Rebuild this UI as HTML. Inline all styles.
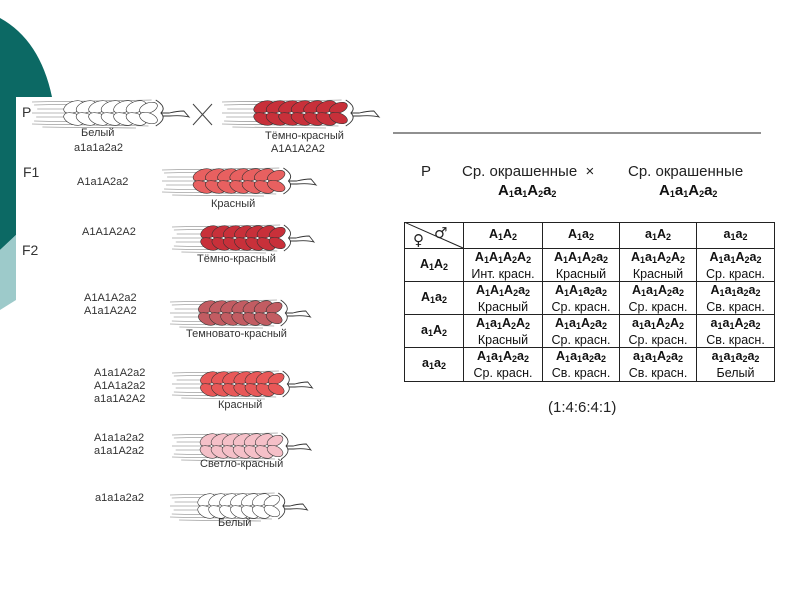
<!DOCTYPE html>
<html><head><meta charset="utf-8"><style>
body{margin:0;width:800px;height:600px;background:#fff;position:relative;overflow:hidden;font-family:"Liberation Sans",sans-serif}
.t{position:absolute;font-size:11px;color:#333;white-space:nowrap;line-height:13px}
.g{position:absolute;font-size:14px;color:#333}
table{position:absolute;left:404px;top:222px;border-collapse:collapse;font-family:"Liberation Sans",sans-serif;font-size:12.5px;color:#111}
td{border:1.5px solid #222;text-align:center;padding:0;line-height:14px}
sub{font-size:9px;vertical-align:-2px}
</style></head><body>
<svg width="800" height="600" style="position:absolute;left:0;top:0">
<defs>
<g id="ear" stroke="#333" stroke-width="0.6">
<g fill="none" stroke="#777" stroke-width="0.6">
<line x1="0" y1="4" x2="115" y2="2"/><line x1="2" y1="7" x2="112" y2="5"/>
<line x1="5" y1="11" x2="60" y2="11"/><line x1="0" y1="15" x2="40" y2="15"/>
<line x1="4" y1="19" x2="60" y2="19"/><line x1="2" y1="23" x2="112" y2="25"/>
<line x1="0" y1="26" x2="112" y2="28"/><line x1="10" y1="29" x2="100" y2="30"/>
</g>
<ellipse cx="40" cy="9" rx="10" ry="5.5" transform="rotate(-22 40 9)"/>
<ellipse cx="40" cy="21" rx="10" ry="5.5" transform="rotate(22 40 21)"/>
<ellipse cx="52" cy="9" rx="10" ry="5.5" transform="rotate(-22 52 9)"/>
<ellipse cx="52" cy="21" rx="10" ry="5.5" transform="rotate(22 52 21)"/>
<ellipse cx="64" cy="9" rx="10" ry="5.5" transform="rotate(-22 64 9)"/>
<ellipse cx="64" cy="21" rx="10" ry="5.5" transform="rotate(22 64 21)"/>
<ellipse cx="76" cy="9" rx="10" ry="5.5" transform="rotate(-22 76 9)"/>
<ellipse cx="76" cy="21" rx="10" ry="5.5" transform="rotate(22 76 21)"/>
<ellipse cx="88" cy="9" rx="10" ry="5.5" transform="rotate(-22 88 9)"/>
<ellipse cx="88" cy="21" rx="10" ry="5.5" transform="rotate(22 88 21)"/>
<ellipse cx="100" cy="9" rx="10" ry="5.5" transform="rotate(-22 100 9)"/>
<ellipse cx="100" cy="21" rx="10" ry="5.5" transform="rotate(22 100 21)"/>
<ellipse cx="112" cy="10" rx="9" ry="5" transform="rotate(-22 112 10)"/>
<ellipse cx="112" cy="20" rx="9" ry="5" transform="rotate(22 112 20)"/>
<path d="M119 2 Q130 9 124 15 Q130 21 119 28 M124 15 L132 15 Q140 13 146 13 L151 19 Q144 17 132 18 L126 18" fill="none" stroke="#333" stroke-width="0.9"/>
</g>
</defs>
<path d="M0 18 Q40 40 52 97 L16 97 L16 235 L0 250 Z" fill="#0c6964"/>
<path d="M0 250 L16 235 L16 300 L0 310 Z" fill="#9dcaca"/>
<line x1="393" y1="133" x2="761" y2="133" stroke="#222" stroke-width="1"/>
<line x1="193" y1="104" x2="212" y2="125" stroke="#444"/><line x1="212" y1="104" x2="193" y2="125" stroke="#444"/>
<use href="#ear" transform="translate(32,98) scale(1.04,1)" fill="#fff"/>
<use href="#ear" transform="translate(222,98) scale(1.04,1)" fill="#c8303a"/>
<use href="#ear" transform="translate(162,166) scale(1.02,1)" fill="#e86060"/>
<use href="#ear" transform="translate(172,223) scale(0.94,1)" fill="#c8303a"/>
<use href="#ear" transform="translate(170,298) scale(0.93,1)" fill="#c25c62"/>
<use href="#ear" transform="translate(172,369) scale(0.93,1)" fill="#e85858"/>
<use href="#ear" transform="translate(172,431) scale(0.92,1)" fill="#f5c0c8"/>
<use href="#ear" transform="translate(170,491) scale(0.91,1)" fill="#fff"/>
</svg>
<div class="g" style="left:22px;top:104px">P</div>
<div class="t" style="left:81px;top:127px">Белый</div>
<div class="t" style="left:74px;top:142px">a1a1a2a2</div>
<div class="t" style="left:265px;top:130px">Тёмно-красный</div>
<div class="t" style="left:271px;top:143px">A1A1A2A2</div>
<div class="g" style="left:23px;top:164px">F1</div>
<div class="t" style="left:77px;top:176px">A1a1A2a2</div>
<div class="t" style="left:211px;top:198px">Красный</div>
<div class="t" style="left:82px;top:226px">A1A1A2A2</div>
<div class="g" style="left:22px;top:242px">F2</div>
<div class="t" style="left:197px;top:253px">Тёмно-красный</div>
<div class="t" style="left:84px;top:292px">A1A1A2a2<br>A1a1A2A2</div>
<div class="t" style="left:186px;top:328px">Темновато-красный</div>
<div class="t" style="left:94px;top:367px">A1a1A2a2<br>A1A1a2a2<br>a1a1A2A2</div>
<div class="t" style="left:218px;top:399px">Красный</div>
<div class="t" style="left:94px;top:432px">A1a1a2a2<br>a1a1A2a2</div>
<div class="t" style="left:200px;top:458px">Светло-красный</div>
<div class="t" style="left:95px;top:492px">a1a1a2a2</div>
<div class="t" style="left:218px;top:517px">Белый</div>

<div class="g" style="left:421px;top:163px;color:#222;font-size:15px">P</div>
<div class="g" style="left:462px;top:163px;color:#222;font-size:15px">Ср. окрашенные &nbsp;×</div>
<div class="g" style="left:628px;top:163px;color:#222;font-size:15px">Ср. окрашенные</div>
<div class="g" style="left:498px;top:182px;color:#111;font-size:15px"><b>A<sub>1</sub>a<sub>1</sub>A<sub>2</sub>a<sub>2</sub></b></div>
<div class="g" style="left:659px;top:182px;color:#111;font-size:15px"><b>A<sub>1</sub>a<sub>1</sub>A<sub>2</sub>a<sub>2</sub></b></div>
<table>
<tr style="height:26px"><td style="width:58px"></td><td style="width:78px"><b>A<sub>1</sub>A<sub>2</sub></b></td><td style="width:76px"><b>A<sub>1</sub>a<sub>2</sub></b></td><td style="width:76px"><b>a<sub>1</sub>A<sub>2</sub></b></td><td style="width:77px"><b>a<sub>1</sub>a<sub>2</sub></b></td></tr>
<tr style="height:33px"><td><b>A<sub>1</sub>A<sub>2</sub></b></td><td><b>A<sub>1</sub>A<sub>1</sub>A<sub>2</sub>A<sub>2</sub></b><br>Инт. красн.</td><td><b>A<sub>1</sub>A<sub>1</sub>A<sub>2</sub>a<sub>2</sub></b><br>Красный</td><td><b>A<sub>1</sub>a<sub>1</sub>A<sub>2</sub>A<sub>2</sub></b><br>Красный</td><td><b>A<sub>1</sub>a<sub>1</sub>A<sub>2</sub>a<sub>2</sub></b><br>Ср. красн.</td></tr>
<tr style="height:33px"><td><b>A<sub>1</sub>a<sub>2</sub></b></td><td><b>A<sub>1</sub>A<sub>1</sub>A<sub>2</sub>a<sub>2</sub></b><br>Красный</td><td><b>A<sub>1</sub>A<sub>1</sub>a<sub>2</sub>a<sub>2</sub></b><br>Ср. красн.</td><td><b>A<sub>1</sub>a<sub>1</sub>A<sub>2</sub>a<sub>2</sub></b><br>Ср. красн.</td><td><b>A<sub>1</sub>a<sub>1</sub>a<sub>2</sub>a<sub>2</sub></b><br>Св. красн.</td></tr>
<tr style="height:33px"><td><b>a<sub>1</sub>A<sub>2</sub></b></td><td><b>A<sub>1</sub>a<sub>1</sub>A<sub>2</sub>A<sub>2</sub></b><br>Красный</td><td><b>A<sub>1</sub>a<sub>1</sub>A<sub>2</sub>a<sub>2</sub></b><br>Ср. красн.</td><td><b>a<sub>1</sub>a<sub>1</sub>A<sub>2</sub>A<sub>2</sub></b><br>Ср. красн.</td><td><b>a<sub>1</sub>a<sub>1</sub>A<sub>2</sub>a<sub>2</sub></b><br>Св. красн.</td></tr>
<tr style="height:34px"><td><b>a<sub>1</sub>a<sub>2</sub></b></td><td><b>A<sub>1</sub>a<sub>1</sub>A<sub>2</sub>a<sub>2</sub></b><br>Ср. красн.</td><td><b>A<sub>1</sub>a<sub>1</sub>a<sub>2</sub>a<sub>2</sub></b><br>Св. красн.</td><td><b>a<sub>1</sub>a<sub>1</sub>A<sub>2</sub>a<sub>2</sub></b><br>Св. красн.</td><td><b>a<sub>1</sub>a<sub>1</sub>a<sub>2</sub>a<sub>2</sub></b><br>Белый</td></tr>
</table>
<svg width="60" height="27" style="position:absolute;left:404px;top:222px">
<line x1="0" y1="0" x2="59" y2="26" stroke="#222" stroke-width="1"/>
<text x="9" y="23" font-size="15" fill="#222" font-family="DejaVu Sans">♀</text>
<text x="30" y="16" font-size="15" fill="#222" font-family="DejaVu Sans">♂</text>
</svg>
<div class="g" style="left:548px;top:399px;color:#222;font-size:15px">(1:4:6:4:1)</div>
</body></html>
